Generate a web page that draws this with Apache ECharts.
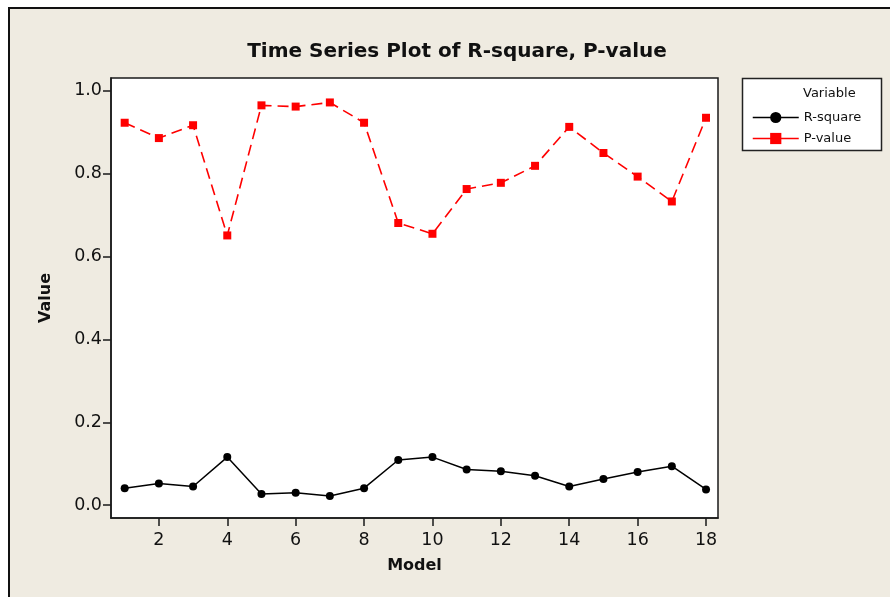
<!DOCTYPE html>
<html>
<head>
<meta charset="utf-8">
<style>
  html, body { margin: 0; padding: 0; background: #ffffff; }
  #chart { width: 890px; height: 597px; }
</style>
<script src="https://cdn.jsdelivr.net/npm/echarts@6/dist/echarts.min.js"></script>
</head>
<body>
<div id="chart"></div>
<script>
// Model index along the x axis
const models = [1, 2, 3, 4, 5, 6, 7, 8, 9, 10, 11, 12, 13, 14, 15, 16, 17, 18];
// R-square per model
const rSquare = [0.041, 0.052, 0.045, 0.116, 0.027, 0.030, 0.022, 0.041, 0.109,
                 0.116, 0.086, 0.082, 0.071, 0.045, 0.063, 0.080, 0.094, 0.038];
// P-value per model
const pValue = [0.923, 0.886, 0.917, 0.651, 0.965, 0.962, 0.972, 0.923, 0.681,
                0.655, 0.763, 0.778, 0.819, 0.913, 0.850, 0.793, 0.733, 0.935];
// Tick positions
const xTicks = [2, 4, 6, 8, 10, 12, 14, 16, 18];
const yTicks = [0, 0.2, 0.4, 0.6, 0.8, 1.0];

const FONT = 'DejaVu Sans';
const chart = echarts.init(document.getElementById('chart'), null, { renderer: 'canvas' });

chart.setOption({
  backgroundColor: '#ffffff',
  animation: false,
  graphic: [
    // beige panel with black frame on left and top
    { type: 'rect', z: -10, shape: { x: 9, y: 8, width: 1000, height: 1000 },
      style: { fill: '#EFEBE1', stroke: '#111', lineWidth: 2 } },
    // legend box
    { type: 'rect', z: 1, shape: { x: 742.5, y: 78.5, width: 139, height: 72 },
      style: { fill: '#ffffff', stroke: '#222', lineWidth: 1.5 } },
    { type: 'text', z: 2, left: 803, top: 87,
      style: { text: 'Variable', fill: '#111', font: '13px ' + FONT } }
  ],
  title: {
    text: 'Time Series Plot of R-square, P-value',
    left: 452, top: 37, textAlign: 'center',
    textStyle: { fontFamily: FONT, fontWeight: 'bold', fontSize: 20, color: '#111' }
  },
  legend: {
    orient: 'vertical', left: 747, top: 106,
    itemWidth: 46, itemHeight: 14, itemGap: 8,
    lineStyle: { type: 'solid', width: 1.5 },
    textStyle: { fontFamily: FONT, fontSize: 13, color: '#111' },
    data: ['R-square', 'P-value']
  },
  grid: {
    left: 111, top: 78, width: 607, height: 440,
    show: true, backgroundColor: '#ffffff', borderColor: '#1a1a1a', borderWidth: 1.5
  },
  xAxis: {
    type: 'value', min: 0.6, max: 18.35,
    name: 'Model', nameLocation: 'middle', nameGap: 40,
    nameTextStyle: { fontFamily: FONT, fontWeight: 'bold', fontSize: 16, color: '#111' },
    axisLine: { show: true, onZero: false, lineStyle: { color: '#1a1a1a', width: 1.5 } },
    axisTick: { show: true, length: 8, customValues: xTicks, lineStyle: { color: '#1a1a1a', width: 1.5 } },
    axisLabel: { margin: 13, customValues: xTicks, fontFamily: FONT, fontSize: 17.5, color: '#111' },
    splitLine: { show: false }
  },
  yAxis: {
    type: 'value', min: -0.031, max: 1.031,
    name: 'Value', nameLocation: 'middle', nameGap: 57, nameRotate: 90,
    nameTextStyle: { fontFamily: FONT, fontWeight: 'bold', fontSize: 16, color: '#111' },
    axisLine: { show: true, onZero: false, lineStyle: { color: '#1a1a1a', width: 1.5 } },
    axisTick: { show: true, length: 8, customValues: yTicks, lineStyle: { color: '#1a1a1a', width: 1.5 } },
    axisLabel: { margin: 9, customValues: yTicks, fontFamily: FONT, fontSize: 17.5, color: '#111',
                 formatter: v => v.toFixed(1) },
    splitLine: { show: false }
  },
  series: [
    {
      name: 'R-square', type: 'line',
      data: models.map((m, i) => [m, rSquare[i]]),
      symbol: 'circle', symbolSize: 8,
      itemStyle: { color: '#000000' },
      lineStyle: { color: '#000000', width: 1.5 }
    },
    {
      name: 'P-value', type: 'line',
      data: models.map((m, i) => [m, pValue[i]]),
      symbol: 'rect', symbolSize: 8,
      itemStyle: { color: '#ff0000' },
      lineStyle: { color: '#ff0000', width: 1.6, type: [11, 6] }
    }
  ]
});
</script>
</body>
</html>
